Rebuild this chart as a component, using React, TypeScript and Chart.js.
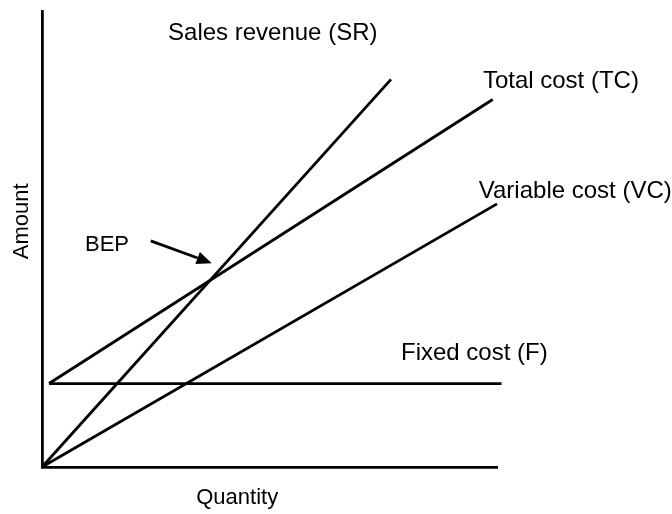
import React, { useEffect, useRef } from "react";
import { Chart, registerables } from "chart.js";

Chart.register(...registerables);

// Break-even chart data (x = quantity, y = amount), in arbitrary units 0..100
const salesRevenue = [
  { x: 0, y: 0 },
  { x: 76.7, y: 85.0 },
];
const totalCost = [
  { x: 1.54, y: 18.3 },
  { x: 99.05, y: 80.6 },
];
const variableCost = [
  { x: 0, y: 0 },
  { x: 100, y: 57.7 },
];
const fixedCost = [
  { x: 1.54, y: 18.3 },
  { x: 101.0, y: 18.3 },
];

const lineLabels = [
  { text: "Sales revenue (SR)", x: 27.7, y: 95.2, size: 24 },
  { text: "Total cost (TC)", x: 96.9, y: 84.6, size: 24 },
  { text: "Variable cost (VC)", x: 96.0, y: 60.5, size: 24 },
  { text: "Fixed cost (F)", x: 78.9, y: 25.0, size: 24 },
  { text: "BEP", x: 9.45, y: 48.7, size: 22 },
];
const bepArrow = { from: { x: 23.9, y: 49.6 }, to: { x: 37.3, y: 44.7 } };
const xTitle = { text: "Quantity", x: 42.9, y: -6.8, size: 22 };
const yTitle = { text: "Amount", x: -4.4, y: 53.9, size: 22 };

const font = (s: number) => `${s}px "Liberation Sans", Arial, sans-serif`;

const annotationsPlugin = {
  id: "annotations",
  afterDraw(chart: any) {
    const ctx = chart.ctx;
    const xs = chart.scales.x;
    const ys = chart.scales.y;
    ctx.save();
    ctx.fillStyle = "#000";
    ctx.textBaseline = "middle";
    ctx.textAlign = "left";
    for (const l of lineLabels) {
      ctx.font = font(l.size);
      ctx.fillText(l.text, xs.getPixelForValue(l.x), ys.getPixelForValue(l.y));
    }
    ctx.textAlign = "center";
    ctx.font = font(xTitle.size);
    ctx.fillText(xTitle.text, xs.getPixelForValue(xTitle.x), ys.getPixelForValue(xTitle.y));
    ctx.save();
    ctx.font = font(yTitle.size);
    ctx.translate(xs.getPixelForValue(yTitle.x), ys.getPixelForValue(yTitle.y));
    ctx.rotate(-Math.PI / 2);
    ctx.fillText(yTitle.text, 0, 0);
    ctx.restore();

    // arrow
    const x1 = xs.getPixelForValue(bepArrow.from.x);
    const y1 = ys.getPixelForValue(bepArrow.from.y);
    const x2 = xs.getPixelForValue(bepArrow.to.x);
    const y2 = ys.getPixelForValue(bepArrow.to.y);
    const ang = Math.atan2(y2 - y1, x2 - x1);
    const headLen = 15;
    const headW = 6.5;
    const bx = x2 - headLen * Math.cos(ang);
    const by = y2 - headLen * Math.sin(ang);
    ctx.strokeStyle = "#000";
    ctx.lineWidth = 2.8;
    ctx.beginPath();
    ctx.moveTo(x1, y1);
    ctx.lineTo(bx, by);
    ctx.stroke();
    ctx.beginPath();
    ctx.moveTo(x2, y2);
    ctx.lineTo(bx + headW * Math.sin(ang), by - headW * Math.cos(ang));
    ctx.lineTo(bx - headW * Math.sin(ang), by + headW * Math.cos(ang));
    ctx.closePath();
    ctx.fill();
    ctx.restore();
  },
};

export default function App() {
  const ref = useRef<HTMLCanvasElement | null>(null);
  useEffect(() => {
    if (!ref.current) return;
    const mk = (data: any) => ({
      data,
      showLine: true,
      borderColor: "#000",
      borderWidth: 2.8,
      pointRadius: 0,
      fill: false,
      clip: false as any,
    });
    const chart = new Chart(ref.current, {
      type: "scatter",
      data: {
        datasets: [mk(salesRevenue), mk(totalCost), mk(variableCost), mk(fixedCost)],
      },
      options: {
        animation: false,
        responsive: false,
        maintainAspectRatio: false,
        layout: { padding: { left: 42, right: 175, top: 11, bottom: 47 } },
        plugins: { legend: { display: false }, tooltip: { enabled: false } },
        scales: {
          x: {
            type: "linear",
            min: 0,
            max: 100,
            ticks: { display: false },
            grid: { display: false, drawTicks: false },
            border: { display: true, color: "#000", width: 2.8 },
            afterFit: (s: any) => {
              s.height = 0;
            },
          },
          y: {
            type: "linear",
            min: 0,
            max: 100,
            ticks: { display: false },
            grid: { display: false, drawTicks: false },
            border: { display: true, color: "#000", width: 2.8 },
            afterFit: (s: any) => {
              s.width = 0;
            },
          },
        },
      },
      plugins: [annotationsPlugin],
    });
    return () => chart.destroy();
  }, []);
  return (
    <div style={{ position: "fixed", left: 0, top: 0, width: 672, height: 514, background: "#fff" }}>
      <canvas ref={ref} width={672} height={514} style={{ width: 672, height: 514 }} />
    </div>
  );
}
